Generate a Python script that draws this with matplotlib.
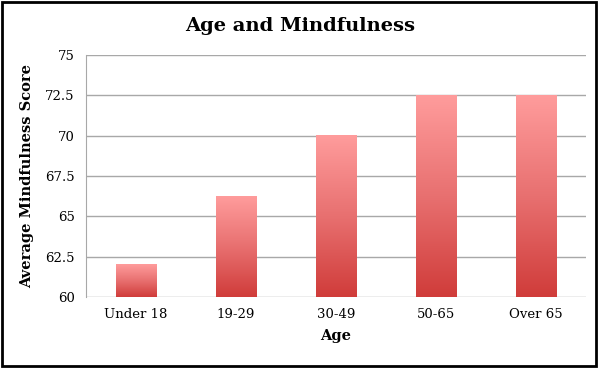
import numpy as np
import matplotlib

matplotlib.use("Agg")
import matplotlib.pyplot as plt
from matplotlib.colors import LinearSegmentedColormap
from matplotlib.patches import Rectangle

CATEGORIES = ["Under 18", "19-29", "30-49", "50-65", "Over 65"]
SCORES = [62.0, 66.25, 70.0, 72.5, 72.5]
Y_TICKS = [60, 62.5, 65, 67.5, 70, 72.5, 75]

plt.rcParams["font.family"] = ["DejaVu Serif"]

fig = plt.figure(figsize=(6, 3.68), dpi=100)
ax = fig.add_axes([0.1433, 0.193, 0.8334, 0.6575])

x = np.arange(len(CATEGORIES))
bars = ax.bar(x, np.array(SCORES) - 60, bottom=60, width=0.4, color="none", zorder=2)

# vertical gradient: light pink at top -> deeper red at bottom
cmap = LinearSegmentedColormap.from_list("bar", ["#d03c3a", "#e87070", "#ff9c9c"])
grad = np.linspace(0, 1, 256).reshape(-1, 1)
for b in bars:
    x0, y0 = b.get_x(), b.get_y()
    w, h = b.get_width(), b.get_height()
    im = ax.imshow(grad, cmap=cmap, origin="lower", aspect="auto",
                   extent=(x0, x0 + w, y0, y0 + h), zorder=2)

ax.set_xlim(-0.5, len(CATEGORIES) - 0.5)
ax.set_ylim(60, 75)
ax.set_yticks(Y_TICKS, [f"{t:g}" for t in Y_TICKS])
ax.set_xticks(x, CATEGORIES)
ax.tick_params(axis="both", length=0, labelsize=9.5, pad=8)
ax.yaxis.grid(True, color="#a8a8a8", linewidth=1)
ax.set_axisbelow(True)
for s in ["top", "right", "bottom"]:
    ax.spines[s].set_visible(False)
ax.spines["left"].set_color("#a8a8a8")

ax.set_xlabel("Age", fontsize=10.5, fontweight="bold", labelpad=6)
ax.set_ylabel("Average Mindfulness Score", fontsize=10.5, fontweight="bold", labelpad=8)
fig.text(0.5, 0.93, "Age and Mindfulness", ha="center", va="center",
         fontsize=14, fontweight="bold")

fig.patches.append(Rectangle((0.004, 0.006), 0.99, 0.988, transform=fig.transFigure,
                             fill=False, edgecolor="black", linewidth=2))

fig.savefig("out.png", dpi=100)
